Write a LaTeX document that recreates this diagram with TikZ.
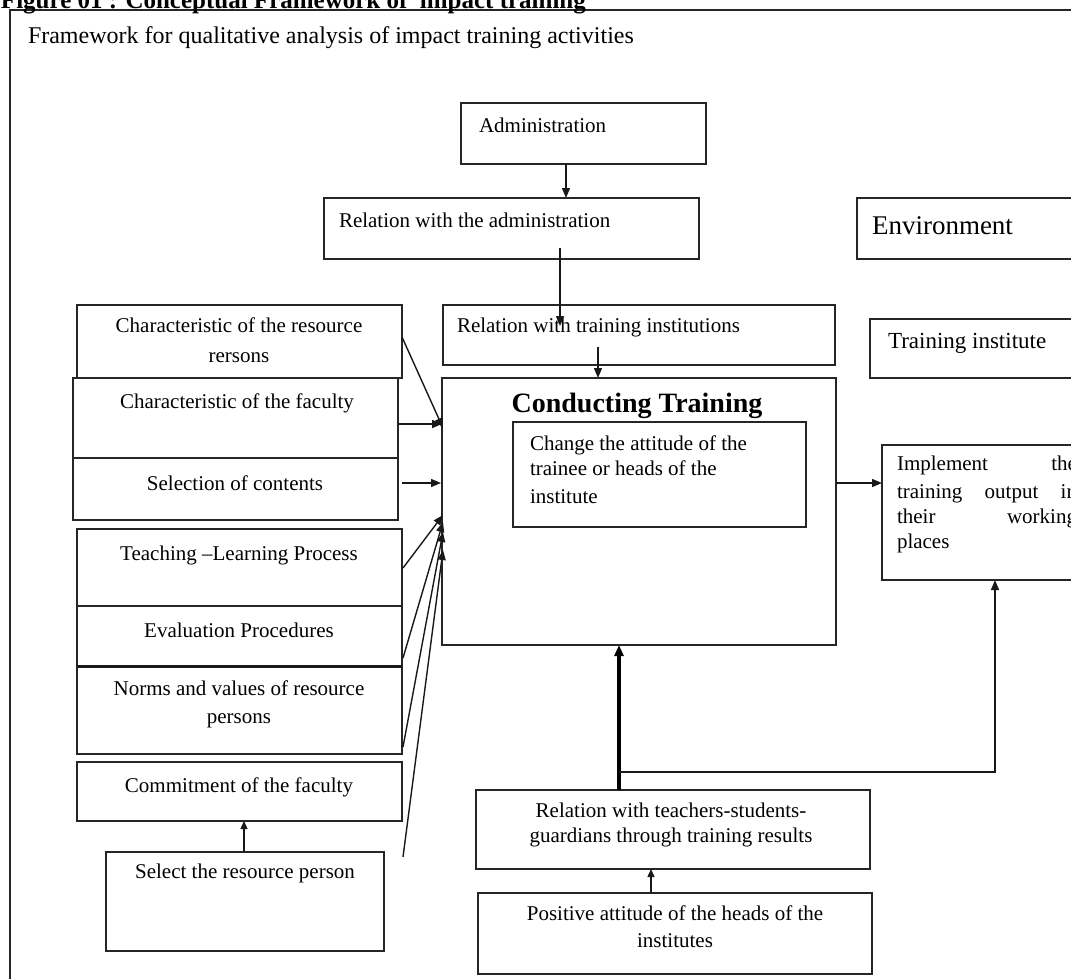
\documentclass[tikz,border=0pt]{standalone}
\usepackage{fontspec}
\setmainfont{Liberation Serif}
\usetikzlibrary{arrows.meta,calc,fit}
\begin{document}
\begin{tikzpicture}[x=1pt,y=-1pt,
  box/.style={draw=black!85, line width=1.5pt, inner sep=0pt, outer sep=0pt},
  txt/.style={inner sep=0pt, outer sep=0pt, font=\fontsize{21}{25}\selectfont, text=black},
  arr/.style={draw=black!90, line width=1.4pt, -{Triangle[length=10pt,width=8pt]}},
  sarr/.style={draw=black!90, line width=1.4pt, -{Triangle[length=8pt,width=7pt]}},
  tarr/.style={draw=black, line width=3.5pt, -{Triangle[length=11pt,width=9pt]}},
  ln/.style={draw=black!90, line width=1.4pt}]
\useasboundingbox (0,0) rectangle (1071,978);
\clip (0,0) rectangle (1071,978);
\fill[white] (0,0) rectangle (1071,978);

% outer frame
\node[box, line width=1.8pt, fit={(10,10)(1085,995)}] (frame) {};
\node[txt, anchor=base west, font=\fontsize{25}{28}\selectfont\bfseries] (ttl) at (1,8) {Figure 01 : Conceptual Framework of\ \ impact training};
\node[txt, anchor=base west, font=\fontsize{24}{28}\selectfont] (sub) at (28,43) {Framework for qualitative analysis of impact training activities};

% boxes
\node[box, fit={(461,103)(706,164)}] (adm) {};
\node[box, fit={(324,198)(699,259)}] (reladm) {};
\node[box, fit={(857,198)(1080,259)}] (env) {};
\node[box, fit={(443,305)(835,365)}] (reltr) {};
\node[box, fit={(870,319)(1080,378)}] (trinst) {};
\node[box, fit={(77,305)(402,378)}] (charres) {};
\node[box, fit={(73,378)(398,458)}] (charfac) {};
\node[box, fit={(73,458)(398,520)}] (selcon) {};
\node[box, fit={(77,529)(402,606)}] (teach) {};
\node[box, fit={(77,606)(402,666)}] (eval) {};
\node[box, fit={(77,667)(402,754)}] (norms) {};
\node[box, fit={(77,762)(402,821)}] (commit) {};
\node[box, fit={(106,852)(384,951)}] (select) {};
\node[box, fit={(442,378)(836,645)}] (conduct) {};
\node[box, fit={(513,422)(806,527)}] (inner) {};
\node[box, fit={(882,445)(1080,580)}] (impl) {};
\node[box, fit={(476,790)(870,869)}] (relteach) {};
\node[box, fit={(478,893)(872,974)}] (posit) {};
\draw[line width=3pt, black!90] (eval.south west) -- (eval.south east);

% texts
\node[txt, anchor=base west] (tadm) at (479,132) {Administration};
\node[txt, anchor=base west] (treladm) at (339,227) {Relation with the administration};
\node[txt, anchor=base west, font=\fontsize{27}{30}\selectfont] (tenv) at (872,234) {Environment};
\node[txt, anchor=base west] (treltr) at (457,332) {Relation with training institutions};
\node[txt, anchor=base west, font=\fontsize{23}{27}\selectfont] (ttrinst) at (888,348) {Training institute};
\node[txt, anchor=base] (tcr1) at (239,332) {Characteristic of the resource};
\node[txt, anchor=base] (tcr2) at (239,362) {rersons};
\node[txt, anchor=base] (tcf) at (237,408) {Characteristic of the faculty};
\node[txt, anchor=base] (tsc) at (235,490) {Selection of contents};
\node[txt, anchor=base] (ttl1) at (239,560) {Teaching –Learning Process};
\node[txt, anchor=base] (tev) at (239,637) {Evaluation Procedures};
\node[txt, anchor=base] (tnv1) at (239,695) {Norms and values of resource};
\node[txt, anchor=base] (tnv2) at (239,723) {persons};
\node[txt, anchor=base] (tcm) at (239,792) {Commitment of the faculty};
\node[txt, anchor=base] (tsel) at (245,878) {Select the resource person};
\node[txt, anchor=base, font=\fontsize{28}{32}\selectfont\bfseries] (tct) at (637,412) {Conducting Training};
\node[txt, anchor=base west] (tin1) at (530,450) {Change the attitude of the};
\node[txt, anchor=base west] (tin2) at (530,475) {trainee or heads of the};
\node[txt, anchor=base west] (tin3) at (530,503) {institute};
\node[txt, anchor=base west] (tim1) at (897,470) {\hbox to 180pt{Implement\hfill the}};
\node[txt, anchor=base west] (tim2) at (897,498) {\hbox to 180pt{training\hfill output\hfill in}};
\node[txt, anchor=base west] (tim3) at (897,523) {\hbox to 180pt{their\hfill working}};
\node[txt, anchor=base west] (tim4) at (897,548) {places};
\node[txt, anchor=base] (trt1) at (671,817) {Relation with teachers-students-};
\node[txt, anchor=base] (trt2) at (671,842) {guardians through training results};
\node[txt, anchor=base] (tpo1) at (675,920) {Positive attitude of the heads of the};
\node[txt, anchor=base] (tpo2) at (675,947) {institutes};

% connectors
\draw[arr] ($(adm.south west)+(105,0)$) -- ($(reladm.north west)+(242,0)$);
\draw[arr] ($(reladm.south west)+(236,-11)$) -- ($(reltr.north west)+(117,21)$);
\draw[arr] ($(reltr.south west)+(155,-18)$) -- ($(conduct.north west)+(156,0)$);
\draw[arr] ($(charres.north east)+(0,32)$) -- ($(conduct.north west)+(1,50)$);
\draw[arr] ($(charfac.north east)+(0,46)$) -- ($(conduct.north west)+(0,46)$);
\draw[arr] ($(selcon.north east)+(4,25)$) -- ($(conduct.north west)+(-1,105)$);
\draw[arr] ($(teach.north east)+(1,39)$) -- ($(conduct.north west)+(1,137)$);
\draw[arr] ($(eval.north east)+(1,52)$) -- ($(conduct.north west)+(1,144)$);
\draw[arr] ($(norms.north east)+(1,80)$) -- ($(conduct.north west)+(1,154)$);
\coordinate (free) at (403,857);
\draw[arr] (free) -- ($(conduct.north west)+(1,172)$);
\draw[sarr] ($(select.north west)+(138,0)$) -- ($(commit.south west)+(167,0)$);
\draw[arr] ($(conduct.north east)+(0,105)$) -- ($(impl.north west)+(0,38)$);
\draw[tarr] ($(relteach.north west)+(143,0)$) -- ($(conduct.south west)+(177,0)$);
\draw[arr] ($(relteach.north west)+(143,-18)$) -| ($(impl.south west)+(113,0)$);
\draw[sarr] ($(posit.north west)+(173,0)$) -- ($(relteach.south west)+(175,0)$);
\end{tikzpicture}
\end{document}
